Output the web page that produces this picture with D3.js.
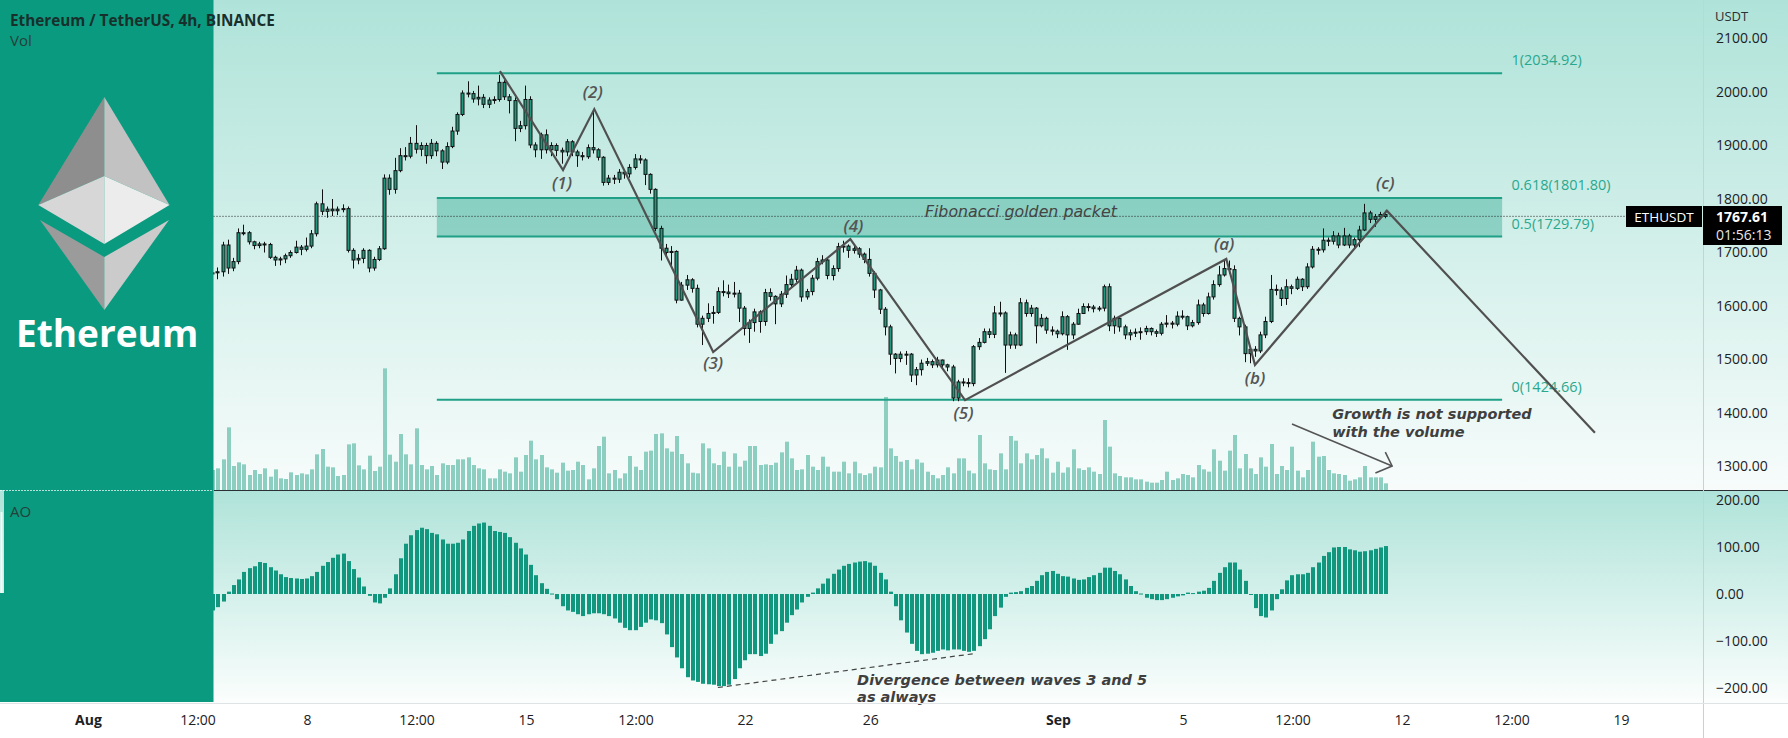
<!DOCTYPE html>
<html><head><meta charset="utf-8">
<script src="https://cdn.jsdelivr.net/npm/d3@7"></script>
<style>
html,body{margin:0;padding:0;background:#fff;}
svg{display:block;font-family:"Open Sans","DejaVu Sans",sans-serif;}
</style></head><body>
<svg id="chart" width="1788" height="738"></svg>
<script>
// ---------------- DATA ----------------
const candleStart = Date.UTC(2022, 7, 5, 0, 0); // first 4h candle
const firstOpen = 1660;
const closes = [
1662,1664,1714,1671,1683,1737,1737,1720,1713,1716,
1715,1691,1686,1688,1694,1700,1710,1706,1712,1735,
1791,1777,1781,1778,1781,1782,1704,1686,1689,1704,
1671,1687,1707,1839,1818,1853,1881,1880,1904,1893,
1900,1881,1904,1890,1869,1898,1927,1958,1998,1997,
1987,1990,1977,1985,1986,2018,1991,1984,1932,1937,
1986,1901,1892,1920,1892,1900,1891,1888,1907,1888,
1881,1879,1896,1892,1878,1831,1839,1837,1850,1847,
1859,1875,1873,1846,1818,1745,1708,1700,1702,1611,
1639,1649,1633,
1566,1577,1586,1588,1627,1626,1623,1624,1596,1558,
1569,1589,1571,1625,1618,1604,1622,1640,1650,1667,
1617,1627,1652,1683,1686,1657,1670,1711,1712,1704,
1707,1697,1687,1661,1630,1594,1561,1510,1502,1510,
1510,1471,1481,1493,1496,1490,1499,1490,1486,1428,
1458,1457,1455,1524,1532,1552,1547,1587,1587,1527,
1546,1527,1606,1586,1596,1563,1577,1555,1553,1548,
1580,1546,1566,1586,1599,1598,1595,
1596,1636,1563,1577,1561,1546,1550,1551,1552,1558,
1552,1549,1566,1568,1566,1581,1580,1563,1569,1602,
1586,1617,1640,1658,1670,1668,1577,1561,1511,1519,
1516,1546,1571,1631,1630,1614,1636,1633,1650,1636,
1673,1706,1705,1723,1721,1731,1714,1731,1714,1724,
1742,1774,1762,1767,1771,1767.61
];
const highs = [
1664,1672,1720,1724,1690,1745,1752,1740,1722,1720,
1720,1718,1694,1692,1698,1704,1722,1714,1728,1742,
1795,1818,1786,1800,1786,1790,1786,1708,1697,1708,
1706,1692,1712,1846,1846,1877,1895,1897,1916,1938,
1906,1905,1912,1908,1893,1906,1935,1962,2003,2020,
2002,2012,1996,1990,1992,2032,2022,1996,1990,1946,
2012,1992,1906,1924,1930,1906,1904,1896,1912,1910,
1892,1888,1902,1968,1895,1880,1845,1845,1856,1856,
1865,1884,1882,1876,1848,1820,1750,1716,1712,1704,
1645,1658,1652,
1640,1582,1605,1600,1635,1648,1640,1645,1630,1600,
1575,1595,1592,1632,1633,1620,1628,1657,1660,1675,
1670,1632,1658,1690,1695,1690,1676,1718,1722,1715,
1713,1710,1700,1708,1665,1632,1598,1565,1512,1515,
1516,1512,1486,1500,1503,1500,1505,1500,1492,1490,
1462,1465,1465,1527,1540,1558,1558,1600,1608,1590,
1552,1550,1615,1612,1602,1598,1585,1580,1562,1556,
1590,1583,1570,1595,1605,1605,1602,
1600,1640,1642,1582,1580,1565,1556,1558,1560,1563,
1560,1556,1570,1583,1572,1590,1592,1582,1574,1612,
1606,1625,1648,1675,1687,1685,1676,1580,1565,1525,
1525,1552,1580,1658,1640,1635,1650,1640,1655,1652,
1680,1712,1710,1745,1728,1740,1737,1746,1735,1728,
1750,1791,1778,1772,1776,1778
];
const lows = [
1608,1650,1655,1660,1665,1678,1732,1715,1706,1708,
1700,1688,1675,1676,1680,1690,1698,1695,1702,1708,
1730,1770,1765,1768,1770,1775,1700,1670,1678,1680,
1663,1666,1684,1705,1808,1810,1850,1872,1876,1885,
1880,1866,1875,1880,1856,1865,1895,1920,1955,1990,
1980,1975,1970,1970,1978,1982,1985,1960,1908,1925,
1930,1895,1878,1875,1885,1880,1880,1866,1880,1880,
1860,1872,1875,1885,1872,1825,1826,1828,1830,1838,
1840,1855,1866,1826,1810,1740,1685,1690,1672,1605,
1610,1630,1625,
1560,1527,1570,1567,1585,1618,1615,1616,1570,1545,
1531,1552,1550,1563,1610,1566,1598,1615,1635,1645,
1608,1612,1620,1648,1678,1650,1648,1664,1700,1690,
1698,1690,1680,1655,1615,1585,1545,1490,1474,1495,
1490,1458,1452,1470,1488,1484,1485,1482,1478,1422,
1422,1450,1448,1450,1518,1530,1540,1540,1580,1475,
1520,1520,1525,1580,1580,1530,1560,1548,1545,1540,
1545,1518,1538,1565,1585,1590,1588,
1590,1590,1553,1548,1552,1538,1536,1542,1537,1546,
1545,1542,1545,1560,1558,1562,1575,1555,1560,1565,
1580,1584,1612,1636,1655,1660,1570,1545,1495,1493,
1505,1512,1540,1568,1620,1600,1602,1622,1630,1628,
1632,1670,1696,1700,1712,1715,1708,1712,1708,1706,
1710,1740,1755,1748,1762,1764
];
// volume, thousand ETH per 4h candle
const volumes = [
60,
65,92,188,72,83,77,45,60,48,65,40,62,35,33,53,45,50,47,62,107,123,70,68,42,45,137,140,74,62,103,57,70,365,106,85,168,107,77,185,
75,62,72,45,80,75,75,92,92,98,
75,65,62,35,35,62,55,50,98,55,
105,148,92,105,68,62,52,82,58,60,
85,75,32,65,132,160,50,60,35,50,
102,70,60,115,118,168,170,125,115,162,
108,80,52,50,140,125,80,75,115,70,
110,70,88,132,132,75,77,75,82,113,
145,95,60,62,105,70,60,100,70,55,
55,85,50,85,50,45,50,70,68,
279,
125,102,85,90,62,92,82,55,45,35,45,68,50,95,95,58,50,165,80,62,60,
110,
62,162,148,80,110,92,105,125,95,52,85,52,68,122,65,60,68,55,48,210,
130,50,42,38,38,32,32,25,22,22,30,55,30,35,48,45,38,75,62,55,
122,88,58,118,165,65,108,65,48,98,70,138,48,72,60,130,58,38,60,145,
100,102,60,50,48,45,28,32,38,72,38,38,38,20
];
// Awesome Oscillator
const aoValues = [
-35,
-28,-16,5,19,31,47,55,59,68,66,57,50,42,36,34,33,32,33,38,47,60,68,77,84,86,70,53,35,16,-4,-18,-20,-8,12,42,76,107,125,136,
141,138,130,127,116,107,107,109,116,134,
145,150,152,145,134,132,130,121,109,97,
84,62,40,23,11,1,-11,-26,-35,-38,
-43,-47,-43,-41,-41,-43,-47,-52,-61,-72,
-77,-77,-70,-61,-54,-56,-62,-86,-113,-135,
-158,-177,-184,-187,-191,-192,-193,-196,-196,-193,
-181,-158,-141,-128,-128,-132,-127,-106,
-86,-79,-61,-45,-33,-18,-6,3,12,22,
33,43,52,60,64,67,69,70,67,60,
45,31,5,-26,-56,-82,-106,-121,-128,
-127,-125,-121,-118,-120,-118,-118,-121,-123,-121,
-111,-96,-75,-47,
-29,-6,3,4,6,13,17,28,40,47,
49,43,38,37,33,30,31,36,40,45,
56,56,49,42,31,17,6,1,-8,-11,
-13,-13,-11,-8,-5,-3,3,2,5,7,
13,28,45,57,67,67,52,28,0,-30,
-47,-50,-35,-11,10,29,40,42,42,45,
57,67,81,89,99,100,100,95,93,90,
91,93,96,99,102
];
const lastPrice = 1767.61;
const fibLevels = [2034.92, 1801.80, 1729.79, 1424.66];
const fibLabels = ["1(2034.92)", "0.618(1801.80)", "0.5(1729.79)", "0(1424.66)"];
const fibStartIdx = 42.9, fibEndIdx = 247.2, fibLabelIdx = 249;
const waveIdx   = [55, 67.1, 73.1, 95.9, 122.2, 144.2, 194.3, 199.8, 225.1, 265];
const wavePrice = [2039, 1854, 1968, 1514, 1725, 1424, 1688, 1490, 1778, 1363];
const waveLabelText  = ["(1)","(2)","(3)","(4)","(5)","(a)","(b)","(c)"];
const waveLabelIdx   = [66.9, 72.8, 95.9, 122.8, 143.9, 193.9, 199.8, 224.8];
const waveLabelPrice = [1830, 1999, 1493, 1750, 1400, 1715, 1465, 1829];
const priceTicks = [1300,1400,1500,1600,1700,1800,1900,2000,2100];
const aoTicks = [-200,-100,0,100,200];
const timeTickDates = [
  Date.UTC(2022,7,1), Date.UTC(2022,7,4,12), Date.UTC(2022,7,8), Date.UTC(2022,7,11,12),
  Date.UTC(2022,7,15), Date.UTC(2022,7,18,12), Date.UTC(2022,7,22), Date.UTC(2022,7,26),
  Date.UTC(2022,8,1), Date.UTC(2022,8,5), Date.UTC(2022,8,8,12), Date.UTC(2022,8,12),
  Date.UTC(2022,8,15,12), Date.UTC(2022,8,19)];
const timeTickLabels = ["Aug","12:00","8","12:00","15","12:00","22","26","Sep","5","12:00","12","12:00","19"];

// ---------------- LAYOUT ----------------
const W = 1788, H = 738, axisX = 1703, paneSplit = 490, aoBottom = 703, panelW = 213.5;
const H4 = 4 * 3600 * 1000;
const x = d3.scaleUtc().domain([new Date(Date.UTC(2022,7,1)), new Date(Date.UTC(2022,8,12))]).range([88, 1402]);
const tOf = k => new Date(candleStart + k * H4);
const X = k => x(tOf(k));
const yP = d3.scaleLinear().domain([1300, 2100]).range([466.5, 38.5]);
const yV = d3.scaleLinear().domain([0, 300]).range([paneSplit, 390]);
const yA = d3.scaleLinear().domain([-200, 200]).range([688, 500]);

const svg = d3.select("#chart");
const defs = svg.append("defs");
function grad(id, c0, c1) {
  const g = defs.append("linearGradient").attr("id", id).attr("x1",0).attr("y1",0).attr("x2",0).attr("y2",1);
  g.append("stop").attr("offset","0").attr("stop-color",c0);
  g.append("stop").attr("offset","1").attr("stop-color",c1);
}
grad("gMain", "#afe3d9", "#f7fcfb");
grad("gAO", "#afe3d9", "#fbfefd");
defs.append("clipPath").attr("id","clipMain").append("rect").attr("x",0).attr("y",0).attr("width",axisX).attr("height",paneSplit);
defs.append("clipPath").attr("id","clipAO").append("rect").attr("x",0).attr("y",paneSplit).attr("width",axisX).attr("height",aoBottom-paneSplit);

// backgrounds
svg.append("rect").attr("x",0).attr("y",0).attr("width",W).attr("height",paneSplit).attr("fill","url(#gMain)");
svg.append("rect").attr("x",0).attr("y",paneSplit).attr("width",W).attr("height",aoBottom-paneSplit).attr("fill","url(#gAO)");
svg.append("rect").attr("x",0).attr("y",aoBottom).attr("width",W).attr("height",H-aoBottom).attr("fill","#ffffff");

const main = svg.append("g").attr("clip-path","url(#clipMain)");

// volume
main.append("g").selectAll("rect").data(volumes).join("rect")
  .attr("x", (d,i) => Math.round(X(i)) - 2).attr("width", 4)
  .attr("y", d => yV(d)).attr("height", d => paneSplit - yV(d))
  .attr("fill", "#8ccfc1");

// fibonacci
const fx0 = X(fibStartIdx), fx1 = X(fibEndIdx);
main.append("rect").attr("x", fx0).attr("width", fx1 - fx0)
  .attr("y", yP(fibLevels[1])).attr("height", yP(fibLevels[2]) - yP(fibLevels[1]))
  .attr("fill", "rgba(30,160,134,0.38)");
main.append("g").selectAll("line").data(fibLevels).join("line")
  .attr("x1", fx0).attr("x2", fx1).attr("y1", d => yP(d)).attr("y2", d => yP(d))
  .attr("stroke", "#1fa087").attr("stroke-width", 2);
main.append("g").selectAll("text").data(fibLabels).join("text")
  .attr("x", X(fibLabelIdx)).attr("y", (d,i) => yP(fibLevels[i]) - 8)
  .attr("font-size", 14.5).attr("fill", "#2aa88e").text(d => d);

// last price dotted line
main.append("line").attr("x1", panelW).attr("x2", 1626).attr("y1", yP(lastPrice)).attr("y2", yP(lastPrice))
  .attr("stroke", "#222").attr("stroke-width", 1).attr("stroke-dasharray", "1,2");

// candles
const candles = closes.map((c, i) => ({ i, o: i === 0 ? firstOpen : closes[i-1], c, h: highs[i], l: lows[i] }));
const gC = main.append("g");
gC.selectAll("line").data(candles).join("line")
  .attr("x1", d => Math.round(X(d.i)) - 0.5).attr("x2", d => Math.round(X(d.i)) - 0.5)
  .attr("y1", d => yP(d.h)).attr("y2", d => yP(d.l))
  .attr("stroke", "#111").attr("stroke-width", 1);
gC.selectAll("rect").data(candles).join("rect")
  .attr("x", d => Math.round(X(d.i)) - 2).attr("width", 3)
  .attr("y", d => yP(Math.max(d.o, d.c)))
  .attr("height", d => Math.max(1, yP(Math.min(d.o, d.c)) - yP(Math.max(d.o, d.c))))
  .attr("fill", "#23967b").attr("stroke", "#111").attr("stroke-width", 1);

// wave count
const waveLine = d3.line().x(d => X(d[0])).y(d => yP(d[1]));
svg.append("path").datum(waveIdx.map((k, i) => [k, wavePrice[i]]))
  .attr("d", waveLine).attr("fill", "none").attr("stroke", "#505050").attr("stroke-width", 2.2)
  .attr("stroke-linejoin", "miter");
svg.append("g").selectAll("text").data(waveLabelText).join("text")
  .attr("x", (d,i) => X(waveLabelIdx[i])).attr("y", (d,i) => yP(waveLabelPrice[i]))
  .attr("dy", "0.35em").attr("text-anchor", "middle")
  .attr("font-size", 17).attr("font-style", "italic").attr("font-weight", 600).attr("fill", "#555")
  .text(d => d);

// annotations
const annoFont = sel => sel.attr("font-family", "'DejaVu Sans', sans-serif").attr("font-size", 14.5)
  .attr("font-style", "italic").attr("font-weight", 700).attr("fill", "#3f3f3f");
svg.append("text").attr("x", X(136.5)).attr("y", yP(1767)).text("Fibonacci golden packet")
  .attr("font-family", "'DejaVu Sans', sans-serif").attr("font-size", 15.8)
  .attr("font-style", "italic").attr("font-weight", 400).attr("fill","#444");
svg.append("text").attr("x", X(214.6)).attr("y", yP(1388)).text("Growth is not supported").call(annoFont);
svg.append("text").attr("x", X(214.6)).attr("y", yP(1355.5)).text("with the volume").call(annoFont);
const arrowPts = [[206.9, 1379.4], [226.1, 1301]];
const headPts = [[224.8, 1327], [226.1, 1301], [222.9, 1288]];
svg.append("path").datum(arrowPts).attr("d", waveLine).attr("stroke", "#555").attr("stroke-width", 1.6).attr("fill", "none");
svg.append("path").datum(headPts).attr("d", waveLine).attr("stroke", "#555").attr("stroke-width", 1.6).attr("fill", "none");

// AO pane
const ao = svg.append("g").attr("clip-path", "url(#clipAO)");
ao.append("g").selectAll("rect").data(aoValues).join("rect")
  .attr("x", (d,i) => Math.round(X(i)) - 2).attr("width", 4)
  .attr("y", d => Math.min(yA(d), yA(0))).attr("height", d => Math.max(1, Math.abs(yA(d) - yA(0))))
  .attr("fill", "#10977e");
const aoLine = d3.line().x(d => X(d[0])).y(d => yA(d[1]));
svg.append("path").datum([[96.8, -199], [145.9, -127]]).attr("d", aoLine)
  .attr("stroke", "#444").attr("stroke-width", 1.2).attr("stroke-dasharray", "5,4").attr("fill", "none");
svg.append("text").attr("x", X(123.5)).attr("y", yA(-193)).text("Divergence between waves 3 and 5").call(annoFont);
svg.append("text").attr("x", X(123.5)).attr("y", yA(-230.5)).text("as always").call(annoFont);

// left branding panel
svg.append("rect").attr("x", 0).attr("y", 0).attr("width", panelW).attr("height", paneSplit).attr("fill", "#0a9a7f");
svg.append("rect").attr("x", 4).attr("y", paneSplit).attr("width", panelW - 4).attr("height", aoBottom - paneSplit - 1).attr("fill", "#0a9a7f");
svg.append("rect").attr("x", 0).attr("y", 593).attr("width", 4).attr("height", aoBottom - 593 - 1).attr("fill", "#0a9a7f");
svg.append("rect").attr("x", 0.5).attr("y", 512).attr("width", 2).attr("height", 81).attr("fill", "#f2fbf9");
// ethereum logo
const logo = svg.append("g");
const A = [104.3, 97], L = [38.3, 205], R = [169.5, 205], C = [104.3, 176], B = [104.3, 244];
const L2 = [40, 220], R2 = [169, 220], T2 = [104.3, 257], B2 = [104.3, 310];
const faces = [
  [[A, L, C], "#8e8e8e"], [[A, C, R], "#c2c2c2"],
  [[L, C, B], "#d7d7d7"], [[C, R, B], "#ececec"],
  [[L2, T2, B2], "#9b9b9b"], [[T2, R2, B2], "#cbcbcb"]
];
logo.selectAll("polygon").data(faces).join("polygon")
  .attr("points", d => d[0].map(p => p.join(",")).join(" ")).attr("fill", d => d[1]);
svg.append("text").attr("x", 16).attr("y", 347).attr("font-size", 37).attr("font-weight", 700)
  .attr("fill", "#ffffff").text("Ethereum");

// legends
svg.append("text").attr("x", 10).attr("y", 26).attr("font-size", 15.3).attr("font-weight", 700).attr("fill", "#18302c")
  .text("Ethereum / TetherUS, 4h, BINANCE");
svg.append("text").attr("x", 10).attr("y", 46).attr("font-size", 15).attr("fill", "#24403a").text("Vol");
svg.append("text").attr("x", 10).attr("y", 517).attr("font-size", 15).attr("fill", "#24403a").text("AO");

// pane separators
svg.append("line").attr("x1", panelW).attr("x2", W).attr("y1", paneSplit + 0.5).attr("y2", paneSplit + 0.5).attr("stroke", "#2b2f36").attr("stroke-width", 1);
svg.append("line").attr("x1", 0).attr("x2", panelW).attr("y1", paneSplit + 0.5).attr("y2", paneSplit + 0.5).attr("stroke", "rgba(255,255,255,0.7)").attr("stroke-dasharray", "2,1");
svg.append("line").attr("x1", axisX + 0.5).attr("x2", axisX + 0.5).attr("y1", 0).attr("y2", H).attr("stroke", "#c6d3d0");
svg.append("line").attr("x1", 0).attr("x2", W).attr("y1", aoBottom + 0.5).attr("y2", aoBottom + 0.5).attr("stroke", "#dfe3e6");

// axes
const styleAxis = g => { g.select(".domain").remove(); g.selectAll(".tick line").remove();
  g.selectAll("text").attr("font-size", 14).attr("fill", "#1c2124").attr("font-family", "'Open Sans', sans-serif"); };
svg.append("g").attr("transform", `translate(${axisX},0)`)
  .call(d3.axisRight(yP).tickValues(priceTicks).tickSize(0).tickPadding(13).tickFormat(d3.format(".2f"))).call(styleAxis);
svg.append("g").attr("transform", `translate(${axisX},0)`)
  .call(d3.axisRight(yA).tickValues(aoTicks).tickSize(0).tickPadding(13).tickFormat(d => d3.format(".2f")(d).replace("-", "\u2212"))).call(styleAxis);
svg.append("text").attr("x", 1715).attr("y", 21).attr("font-size", 13).attr("fill", "#2b3033").text("USDT");
const xAxisG = svg.append("g").attr("transform", `translate(0,${aoBottom})`)
  .call(d3.axisBottom(x).tickValues(timeTickDates.map(t => new Date(t))).tickSize(0).tickPadding(12)
  .tickFormat((d, i) => timeTickLabels[i])).call(styleAxis);
xAxisG.selectAll("text").attr("font-weight", (d, i) => (timeTickLabels[i] === "Aug" || timeTickLabels[i] === "Sep") ? 700 : 400);

// last price labels
svg.append("rect").attr("x", 1626).attr("y", 206).attr("width", 76).attr("height", 21).attr("fill", "#000");
svg.append("text").attr("x", 1664).attr("y", 221.5).attr("text-anchor", "middle").attr("font-size", 13.5).attr("fill", "#fff").text("ETHUSDT");
svg.append("rect").attr("x", 1703).attr("y", 206).attr("width", 79).attr("height", 39).attr("fill", "#000");
svg.append("text").attr("x", 1716).attr("y", 222).attr("font-size", 14).attr("font-weight", 700).attr("fill", "#fff").text(d3.format(".2f")(lastPrice));
svg.append("text").attr("x", 1716).attr("y", 240).attr("font-size", 14).attr("fill", "#e6e6e6").text("01:56:13");
</script>
</body></html>
